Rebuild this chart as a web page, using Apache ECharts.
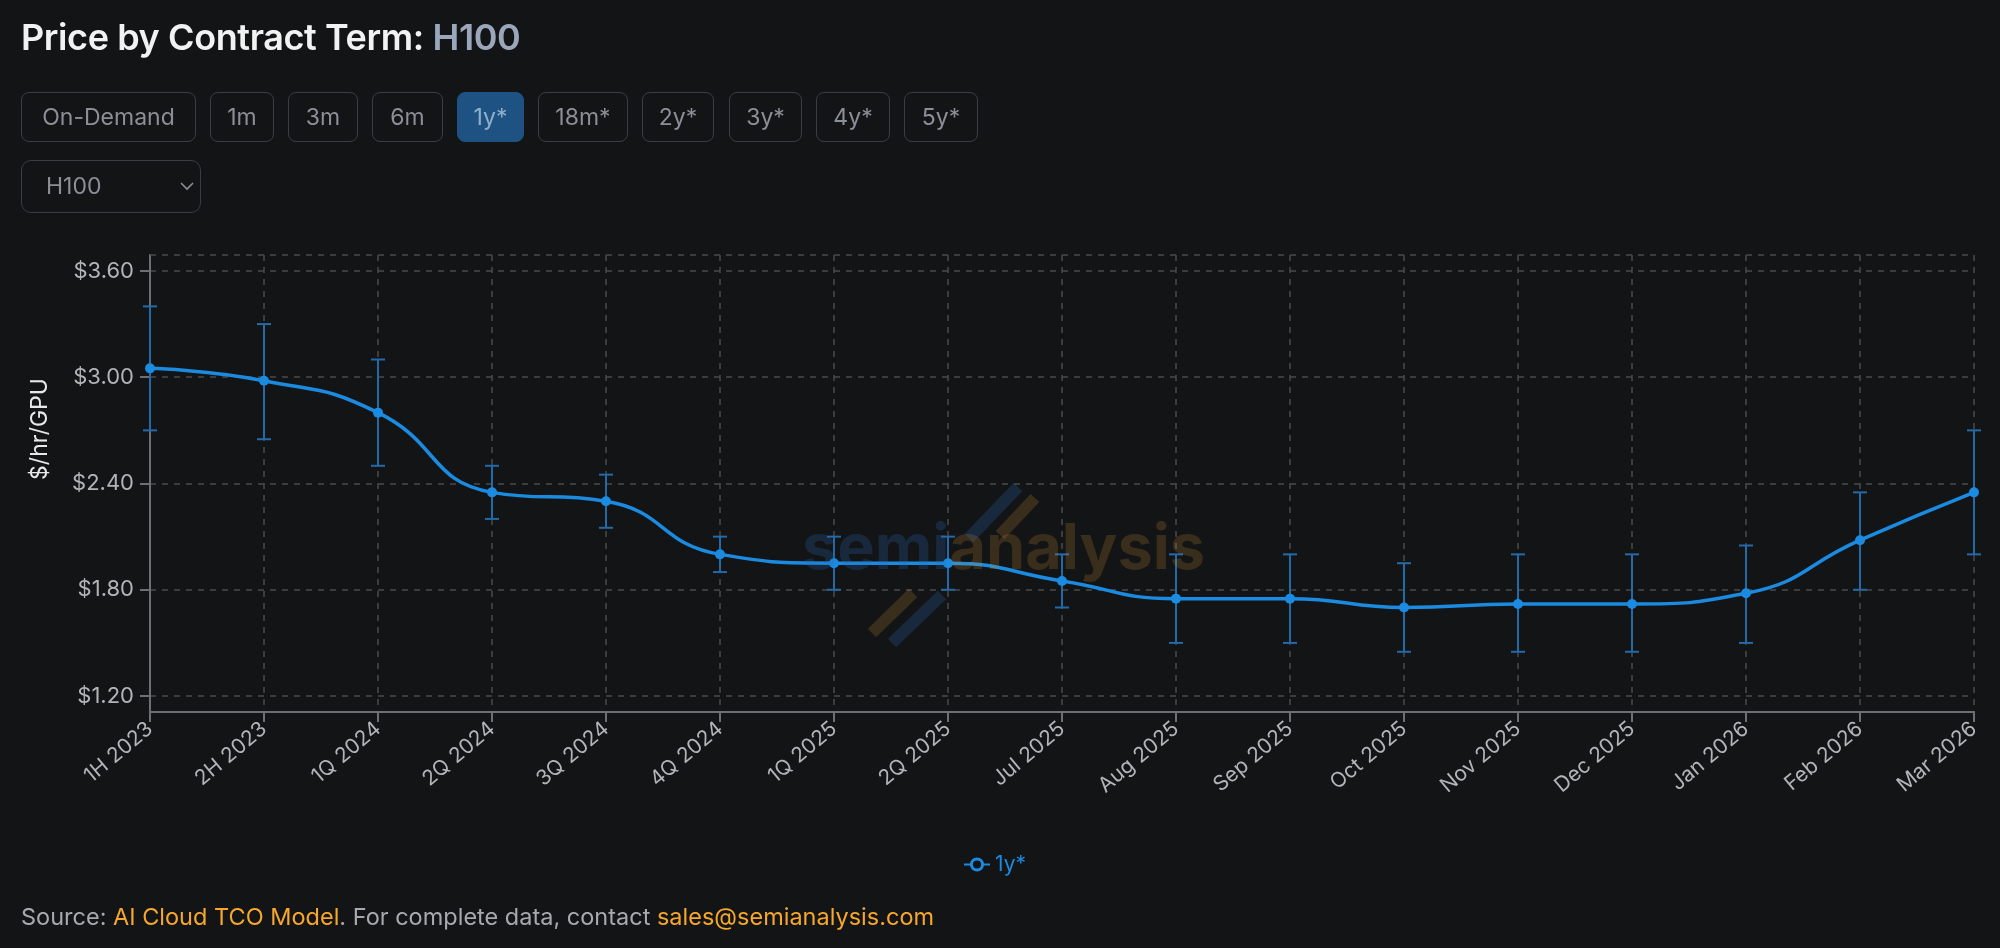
<!DOCTYPE html>
<html>
<head>
<meta charset="utf-8">
<script src="https://cdn.jsdelivr.net/npm/echarts@6/dist/echarts.min.js"></script>
<style>
  html,body{margin:0;padding:0;background:#131416;width:2000px;height:948px;overflow:hidden;font-family:Inter,"Noto Sans",sans-serif;}
  #chart{position:absolute;left:0;top:0;width:2000px;height:948px;}
  .title{position:absolute;left:21px;top:15px;font-size:36px;font-weight:600;color:#f2f2f2;letter-spacing:-0.4px;}
  .title span{color:#9aa7bb;}
  .btns{position:absolute;left:21px;top:92px;height:50px;}
  .btn{position:absolute;top:0;height:48px;border:1px solid #3a3d42;border-radius:8px;color:#8b8f96;font-size:23px;line-height:48px;text-align:center;box-sizing:content-box;}
  .btn.active{background:#1d5283;border-color:#1d5283;color:#8fb0cc;}
  .sel{position:absolute;left:21px;top:160px;width:178px;height:51px;border:1px solid #3a3d42;border-radius:10px;color:#8b8f96;font-size:23px;line-height:51px;}
  .sel .t{position:absolute;left:24px;}
  .sel svg{position:absolute;left:157px;top:19px;}
  .src{position:absolute;left:21px;top:902px;font-size:23.5px;color:#a7a9ad;}
  .src .o{color:#f6a72c;}
</style>
</head>
<body>
<div id="chart"></div>
<div class="title">Price by Contract Term: <span>H100</span></div>
<div class="btns" id="btns"></div>
<div class="sel"><span class="t">H100</span><svg width="16" height="12" viewBox="0 0 16 12"><path d="M2 3 L8 9 L14 3" stroke="#8b8f96" stroke-width="1.6" fill="none"/></svg></div>
<div class="src">Source: <span class="o">AI Cloud TCO Model</span>. For complete data, contact <span class="o">sales@semianalysis.com</span></div>
<script>
// ---- data ----
const terms = ['On-Demand','1m','3m','6m','1y*','18m*','2y*','3y*','4y*','5y*'];
const activeTerm = '1y*';
const categories = ['1H 2023','2H 2023','1Q 2024','2Q 2024','3Q 2024','4Q 2024','1Q 2025','2Q 2025','Jul 2025','Aug 2025','Sep 2025','Oct 2025','Nov 2025','Dec 2025','Jan 2026','Feb 2026','Mar 2026'];
const priceMid  = [3.05, 2.98, 2.80, 2.35, 2.30, 2.00, 1.95, 1.95, 1.85, 1.75, 1.75, 1.70, 1.72, 1.72, 1.78, 2.08, 2.35];
const priceLow  = [2.70, 2.65, 2.50, 2.20, 2.15, 1.90, 1.80, 1.80, 1.70, 1.50, 1.50, 1.45, 1.45, 1.45, 1.50, 1.80, 2.00];
const priceHigh = [3.40, 3.30, 3.10, 2.50, 2.45, 2.10, 2.10, 2.10, 2.00, 2.00, 2.00, 1.95, 2.00, 2.00, 2.05, 2.35, 2.70];
const yTickValues = [1.2, 1.8, 2.4, 3.0, 3.6];
const yMin = 1.11, yMax = 3.69;

// ---- buttons ----
const btnPos = [[0,175],[189,64],[267,70],[351,71],[436,67],[517,90],[621,72],[708,73],[795,74],[883,74]];
const btnBox = document.getElementById('btns');
terms.forEach((t,i)=>{
  const d=document.createElement('div');
  d.className='btn'+(t===activeTerm?' active':'');
  d.style.left=btnPos[i][0]+'px'; d.style.width=(btnPos[i][1]-2)+'px';
  d.textContent=t; btnBox.appendChild(d);
});

const BLUE='#1a8be0';
const ERR='#2469a8';
const WB='rgba(40,110,190,0.24)';
const WO='rgba(210,150,50,0.20)';
const chart = echarts.init(document.getElementById('chart'), null, {renderer:'canvas'});
const errData = categories.map((c,i)=>[i, priceLow[i], priceHigh[i]]);
const slash=(x1,y1,x2,y2,c)=>({type:'line',silent:true,z:100,shape:{x1,y1,x2,y2},style:{stroke:c,lineWidth:12,lineCap:'butt'}});
chart.setOption({
  backgroundColor:'transparent',
  animation:false,
  grid:{left:150,right:26,top:255,bottom:236,containLabel:false},
  legend:{top:849,left:958,itemWidth:26,itemHeight:14,
    data:[{name:'1y*'}],
    textStyle:{color:BLUE,fontSize:21,fontFamily:'Inter'},
    itemStyle:{color:'#131416',borderColor:BLUE,borderWidth:3}},
  graphic:[
    slash(1018,487,969,538,WB),
    slash(1035,498,1000,535,WO),
    slash(913,593,872,633,WO),
    slash(942,595,892,643,WB),
    {type:'text',x:802,y:582,z:100,silent:true,style:{text:'{s|semi}{a|analysis}',verticalAlign:'bottom',fontSize:63,fontWeight:'bold',fontFamily:'Inter',
        rich:{s:{fill:WB,fontSize:63,fontWeight:'bold',fontFamily:'Inter'},
              a:{fill:WO,fontSize:63,fontWeight:'bold',fontFamily:'Inter'}}}},
    {type:'text',x:40,y:429,rotation:Math.PI/2,silent:true,z:100,
      style:{text:'$/hr/GPU',fill:'#e8e8e8',fontSize:23,fontFamily:'Inter',align:'center',verticalAlign:'middle'}}
  ],
  xAxis:{type:'category',data:categories,boundaryGap:false,
    axisLine:{lineStyle:{color:'#6e6f72',width:2}},
    axisTick:{show:true,length:10,lineStyle:{color:'#6e6f72',width:2}},
    axisLabel:{rotate:40,color:'#b3b4b7',fontSize:21,fontFamily:'Inter',margin:14,interval:0},
    splitLine:{show:true,lineStyle:{color:'#48494c',type:[6,6],width:1.5}}},
  yAxis:{type:'value',min:yMin,max:yMax,
    axisLine:{show:true,lineStyle:{color:'#6e6f72',width:2}},
    axisTick:{show:true,length:10,customValues:yTickValues,lineStyle:{color:'#6e6f72',width:2}},
    axisLabel:{customValues:yTickValues,color:'#b3b4b7',fontSize:22,fontFamily:'Inter',margin:16,
      formatter:v=>'$'+v.toFixed(2)},
    splitLine:{show:true,lineStyle:{color:'#48494c',type:[6,6],width:1.5}}},
  series:[
    {type:'custom',name:'err',z:1,silent:true,
      renderItem:function(params,api){
        const x=api.value(0);
        const lo=api.coord([x,api.value(1)]);
        const hi=api.coord([x,api.value(2)]);
        const h=7;
        const st={stroke:ERR,lineWidth:2};
        return {type:'group',children:[
          {type:'line',shape:{x1:hi[0],y1:hi[1],x2:lo[0],y2:lo[1]},style:st},
          {type:'line',shape:{x1:hi[0]-h,y1:hi[1],x2:hi[0]+h,y2:hi[1]},style:st},
          {type:'line',shape:{x1:lo[0]-h,y1:lo[1],x2:lo[0]+h,y2:lo[1]},style:st}
        ]};
      },
      encode:{x:0,y:[1,2]},
      data:errData},
    {type:'line',name:'1y*',z:3,data:priceMid,smooth:true,symbol:'circle',symbolSize:10,
      lineStyle:{color:BLUE,width:3.5},itemStyle:{color:BLUE},
      markLine:{silent:true,symbol:'none',label:{show:false},
        lineStyle:{color:'#48494c',type:[6,6],width:1.5},
        data:[{yAxis:yMax}]}}
  ]
});
</script>
</body>
</html>
